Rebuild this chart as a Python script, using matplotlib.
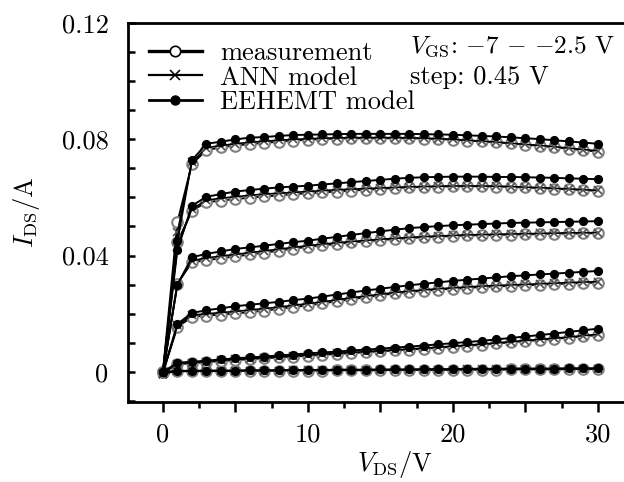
import matplotlib
matplotlib.use("Agg")
import matplotlib.pyplot as plt
from matplotlib.ticker import MultipleLocator, FuncFormatter
from matplotlib.lines import Line2D

plt.rcParams['font.family'] = 'serif'
plt.rcParams['font.serif'] = ['cmr10', 'DejaVu Serif']
plt.rcParams['mathtext.fontset'] = 'cm'
plt.rcParams['axes.formatter.use_mathtext'] = True

# drain voltage sweep (V)
vds = list(range(31))

# measured I_DS (A), one list per gate bias, lowest VGS first
meas = [
    [0, 0.0002, 0.0003, 0.0003, 0.0003, 0.0004, 0.0004, 0.0004, 0.0005, 0.0005, 0.0005, 0.0005, 0.0006, 0.0006, 0.0006, 0.0006,
     0.0007, 0.0007, 0.0007, 0.0007, 0.0008, 0.0008, 0.0008, 0.0008, 0.0009, 0.0009, 0.0009, 0.0009, 0.0010, 0.0010, 0.0010],
    [0, 0.0027, 0.0030, 0.0034, 0.0038, 0.0041, 0.0044, 0.0047, 0.0050, 0.0053, 0.0056, 0.0059, 0.0062, 0.0065, 0.0068, 0.0071,
     0.0074, 0.0077, 0.0080, 0.0083, 0.0087, 0.0090, 0.0094, 0.0098, 0.0102, 0.0106, 0.0110, 0.0114, 0.0118, 0.0123, 0.0127],
    [0, 0.0155, 0.0189, 0.0194, 0.0197, 0.0201, 0.0206, 0.0211, 0.0217, 0.0223, 0.0229, 0.0236, 0.0243, 0.0250, 0.0257, 0.0264,
     0.0270, 0.0275, 0.0279, 0.0283, 0.0286, 0.0289, 0.0292, 0.0294, 0.0296, 0.0298, 0.0300, 0.0302, 0.0304, 0.0306, 0.0307],
    [0, 0.0304, 0.0377, 0.0384, 0.0391, 0.0397, 0.0404, 0.0410, 0.0417, 0.0424, 0.0430, 0.0435, 0.0440, 0.0445, 0.0449, 0.0453,
     0.0457, 0.0460, 0.0463, 0.0465, 0.0467, 0.0469, 0.0470, 0.0471, 0.0472, 0.0473, 0.0474, 0.0475, 0.0476, 0.0476, 0.0477],
    [0, 0.0446, 0.0554, 0.0583, 0.0589, 0.0594, 0.0599, 0.0603, 0.0607, 0.0611, 0.0614, 0.0617, 0.0620, 0.0623, 0.0626, 0.0629,
     0.0632, 0.0634, 0.0636, 0.0637, 0.0638, 0.0638, 0.0638, 0.0637, 0.0636, 0.0634, 0.0632, 0.0630, 0.0627, 0.0625, 0.0622],
    [0, 0.0514, 0.0715, 0.0762, 0.0772, 0.0778, 0.0783, 0.0787, 0.0791, 0.0795, 0.0798, 0.0800, 0.0802, 0.0803, 0.0803, 0.0803,
     0.0803, 0.0803, 0.0802, 0.0800, 0.0798, 0.0795, 0.0792, 0.0789, 0.0785, 0.0781, 0.0777, 0.0772, 0.0767, 0.0762, 0.0757],
]

# ANN model output
ann = [
    [-0.0006, 0.0003, 0.0003, 0.0004, 0.0004, 0.0004, 0.0005, 0.0005, 0.0005, 0.0006, 0.0006, 0.0006, 0.0006, 0.0007, 0.0007, 0.0007,
     0.0007, 0.0008, 0.0008, 0.0008, 0.0008, 0.0009, 0.0009, 0.0009, 0.0009, 0.0010, 0.0010, 0.0010, 0.0010, 0.0011, 0.0011],
    [-0.0006, 0.0029, 0.0032, 0.0036, 0.0040, 0.0043, 0.0046, 0.0049, 0.0052, 0.0055, 0.0058, 0.0061, 0.0064, 0.0067, 0.0070, 0.0073,
     0.0076, 0.0079, 0.0082, 0.0085, 0.0089, 0.0092, 0.0096, 0.0100, 0.0104, 0.0108, 0.0112, 0.0116, 0.0120, 0.0125, 0.0129],
    [-0.0006, 0.0160, 0.0195, 0.0200, 0.0204, 0.0208, 0.0213, 0.0218, 0.0223, 0.0229, 0.0235, 0.0241, 0.0248, 0.0255, 0.0261, 0.0267,
     0.0273, 0.0278, 0.0282, 0.0286, 0.0289, 0.0292, 0.0295, 0.0297, 0.0299, 0.0301, 0.0303, 0.0305, 0.0307, 0.0309, 0.0310],
    [-0.0006, 0.0302, 0.0382, 0.0392, 0.0398, 0.0404, 0.0410, 0.0416, 0.0422, 0.0428, 0.0434, 0.0439, 0.0444, 0.0448, 0.0452, 0.0456,
     0.0459, 0.0462, 0.0465, 0.0467, 0.0469, 0.0471, 0.0472, 0.0473, 0.0474, 0.0475, 0.0476, 0.0477, 0.0478, 0.0478, 0.0479],
    [-0.0006, 0.0430, 0.0560, 0.0590, 0.0597, 0.0602, 0.0607, 0.0611, 0.0614, 0.0617, 0.0620, 0.0623, 0.0626, 0.0628, 0.0630, 0.0632,
     0.0634, 0.0636, 0.0637, 0.0638, 0.0639, 0.0639, 0.0639, 0.0638, 0.0637, 0.0635, 0.0633, 0.0631, 0.0629, 0.0626, 0.0624],
    [-0.0006, 0.0480, 0.0720, 0.0770, 0.0778, 0.0784, 0.0789, 0.0793, 0.0796, 0.0799, 0.0801, 0.0803, 0.0804, 0.0805, 0.0805, 0.0805,
     0.0805, 0.0804, 0.0803, 0.0801, 0.0799, 0.0796, 0.0793, 0.0790, 0.0786, 0.0782, 0.0778, 0.0774, 0.0769, 0.0764, 0.0760],
]

# EEHEMT model output
eehemt = [
    [0, 0.0004, 0.0004, 0.0005, 0.0005, 0.0005, 0.0006, 0.0006, 0.0006, 0.0007, 0.0007, 0.0007, 0.0008, 0.0008, 0.0008, 0.0009,
     0.0009, 0.0009, 0.0010, 0.0010, 0.0010, 0.0011, 0.0011, 0.0011, 0.0012, 0.0012, 0.0012, 0.0012, 0.0013, 0.0013, 0.0013],
    [0, 0.0032, 0.0035, 0.0039, 0.0043, 0.0047, 0.0050, 0.0053, 0.0057, 0.0060, 0.0064, 0.0067, 0.0070, 0.0074, 0.0077, 0.0080,
     0.0084, 0.0087, 0.0091, 0.0095, 0.0099, 0.0103, 0.0107, 0.0112, 0.0117, 0.0122, 0.0127, 0.0132, 0.0138, 0.0143, 0.0149],
    [0, 0.0165, 0.0203, 0.0212, 0.0219, 0.0226, 0.0231, 0.0236, 0.0241, 0.0247, 0.0252, 0.0259, 0.0266, 0.0273, 0.0280, 0.0286,
     0.0292, 0.0298, 0.0303, 0.0308, 0.0313, 0.0317, 0.0321, 0.0325, 0.0329, 0.0332, 0.0335, 0.0338, 0.0341, 0.0344, 0.0347],
    [0, 0.0300, 0.0394, 0.0406, 0.0414, 0.0423, 0.0428, 0.0434, 0.0440, 0.0446, 0.0451, 0.0458, 0.0464, 0.0471, 0.0477, 0.0483,
     0.0489, 0.0494, 0.0498, 0.0501, 0.0504, 0.0506, 0.0508, 0.0510, 0.0512, 0.0513, 0.0514, 0.0515, 0.0516, 0.0517, 0.0518],
    [0, 0.0420, 0.0571, 0.0602, 0.0611, 0.0620, 0.0625, 0.0630, 0.0634, 0.0637, 0.0640, 0.0644, 0.0648, 0.0652, 0.0656, 0.0660,
     0.0664, 0.0667, 0.0669, 0.0670, 0.0671, 0.0671, 0.0671, 0.0670, 0.0670, 0.0669, 0.0668, 0.0667, 0.0665, 0.0664, 0.0662],
    [0, 0.0450, 0.0727, 0.0784, 0.0791, 0.0799, 0.0805, 0.0807, 0.0811, 0.0814, 0.0815, 0.0816, 0.0817, 0.0818, 0.0818, 0.0818,
     0.0818, 0.0818, 0.0817, 0.0816, 0.0815, 0.0813, 0.0811, 0.0809, 0.0806, 0.0803, 0.0800, 0.0796, 0.0792, 0.0788, 0.0784],
]

legend_labels = ['measurement', 'ANN model', 'EEHEMT model']
yticks = [0, 0.04, 0.08, 0.12]
ytick_labels = ['0', '0.04', '0.08', '0.12']

fig = plt.figure(figsize=(6.24, 4.82), dpi=100)
ax = fig.add_axes([0.2051, 0.166, 0.8365, 0.787])

fs = 19
for m, a, e in zip(meas, ann, eehemt):
    ax.plot(vds, m, '-', color='black', lw=1.4, marker='o', ms=7.6,
            mfc='white', mec='#808080', mew=1.5, zorder=2)
    ax.plot(vds, a, '-', color='black', lw=1.2, marker='x', ms=5.5,
            mec='#505050', mew=1.2, zorder=3)
    ax.plot(vds, e, '-', color='black', lw=1.4, marker='o', ms=5.6,
            mfc='black', mec='black', zorder=4)

ax.set_xlim(-2.41, 33.6)
ax.set_ylim(-0.0103, 0.12)

ax.xaxis.set_major_locator(MultipleLocator(5))
ax.xaxis.set_minor_locator(MultipleLocator(2.5))
ax.xaxis.set_major_formatter(FuncFormatter(lambda v, p: '%d' % v if v % 10 == 0 else ''))
ax.set_yticks(yticks)
ax.set_yticklabels(ytick_labels)
ax.yaxis.set_minor_locator(MultipleLocator(0.01))

ax.tick_params(axis='x', which='major', direction='out', length=7, width=1.8,
               labelsize=fs, pad=8)
ax.tick_params(axis='x', which='minor', direction='out', length=4, width=1.8)
ax.tick_params(axis='y', which='both', direction='in', length=5, width=1.8,
               labelsize=fs, pad=14)
for s in ax.spines.values():
    s.set_linewidth(2.0)

ax.set_xlabel(r'$V_{\rm DS}$/V', fontsize=fs)
ax.xaxis.set_label_coords((395 - 128) / (0.8365 * 624), -0.125)
ax.set_ylabel(r'$I_{\rm DS}$/A', fontsize=fs)
ax.yaxis.set_label_coords(-0.165, 0.5)

handles = [
    Line2D([], [], color='black', lw=2.4, marker='o', ms=7.5, mfc='white', mec='black', mew=1.2),
    Line2D([], [], color='black', lw=1.6, marker='x', ms=6.5, mec='black', mew=1.1),
    Line2D([], [], color='black', lw=2.0, marker='o', ms=6.5, mfc='black', mec='black'),
]
ax.legend(handles, legend_labels, loc='upper left', bbox_to_anchor=(0.005, 1.0),
          frameon=False, fontsize=fs, handlelength=2.0, handletextpad=0.7,
          labelspacing=0.04, borderaxespad=0.3)

fig.text(410 / 624, 1 - 47 / 482, r'$V_{\rm GS}$: $-7$ $-$ $-2.5$ V', fontsize=18.2, va='center')
fig.text(410 / 624, 1 - 77 / 482, 'step: 0.45 V', fontsize=fs, va='center')

fig.savefig('out.png', dpi=100)
